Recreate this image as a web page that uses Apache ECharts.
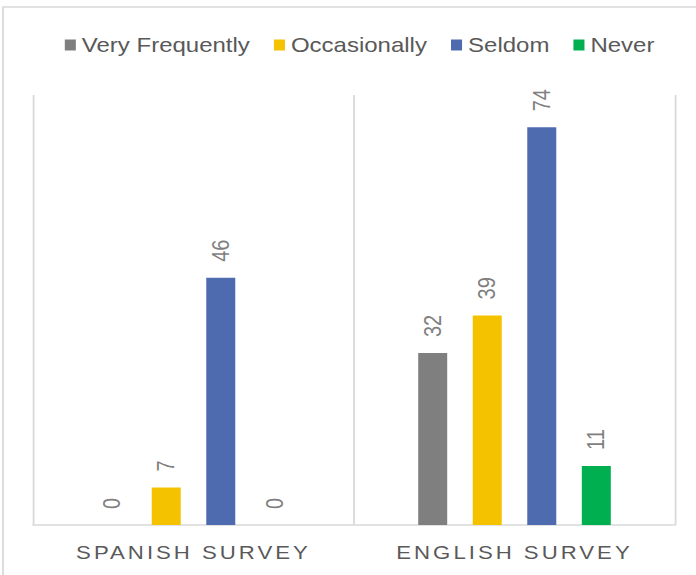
<!DOCTYPE html>
<html>
<head>
<meta charset="utf-8">
<script src="https://cdn.jsdelivr.net/npm/echarts@6/dist/echarts.min.js"></script>
<style>
  html, body { margin: 0; padding: 0; background: #ffffff; overflow: hidden; }
  /* the chart is laid out at a narrower width and widened horizontally */
  #chart { width: 580px; height: 575px; transform: scaleX(1.2); transform-origin: 0 0; }
</style>
</head>
<body>
<div id="chart"></div>
<script>
// survey groups shown along the x axis
const surveys = ['SPANISH SURVEY', 'ENGLISH SURVEY'];
// response frequency series
const seriesNames = ['Very Frequently', 'Occasionally', 'Seldom', 'Never'];
const veryFrequently = [0, 32];
const occasionally = [7, 39];
const seldom = [46, 74];
const never = [0, 11];
const seriesColors = ['#7f7f7f', '#f5c200', '#4f6bb0', '#00b050'];

const FONT = "'Liberation Sans', Arial, sans-serif";
const values = [veryFrequently, occasionally, seldom, never];

const chart = echarts.init(document.getElementById('chart'), null, { renderer: 'svg' });

chart.setOption({
  animation: false,
  backgroundColor: '#ffffff',
  graphic: [{
    type: 'rect',
    silent: true,
    shape: { x: 2.5, y: 7, width: 700, height: 700 },
    style: { fill: 'none', stroke: '#d9d9d9', lineWidth: 1.5 }
  }],
  legend: {
    left: 49,
    top: 30,
    icon: 'rect',
    itemWidth: 9.2,
    itemHeight: 11,
    itemGap: 20,
    textStyle: { fontFamily: FONT, fontSize: 20, color: '#595959' },
    data: seriesNames
  },
  grid: { left: 27.5, right: 17.5, top: 95, bottom: 50, containLabel: false },
  xAxis: {
    type: 'category',
    data: surveys,
    axisLine: { show: true, lineStyle: { color: '#d9d9d9', width: 1.5 } },
    axisTick: { show: false },
    splitLine: { show: true, lineStyle: { color: '#d9d9d9', width: 1.5 } },
    axisLabel: { fontFamily: FONT, fontSize: 18.5, color: '#595959', margin: 18 }
  },
  yAxis: {
    type: 'value',
    min: 0,
    max: 80,
    show: false,
    splitLine: { show: false }
  },
  series: seriesNames.map((name, i) => ({
    name: name,
    type: 'bar',
    data: values[i],
    barGap: '88%',
    barCategoryGap: '40%',
    itemStyle: { color: seriesColors[i] },
    label: {
      show: true,
      position: 'top',
      rotate: 90,
      align: 'left',
      verticalAlign: 'middle',
      distance: 16,
      fontFamily: FONT,
      fontSize: 20,
      color: '#7f7f7f'
    }
  }))
});

// spaced-out lettering for the survey names on the category axis
function spaceAxisLabels() {
  const texts = document.querySelectorAll('#chart svg text');
  texts.forEach(t => {
    if (surveys.indexOf(t.textContent) >= 0) {
      t.style.letterSpacing = '2.5px';
    }
  });
}
chart.on('finished', spaceAxisLabels);
spaceAxisLabels();
</script>
</body>
</html>
